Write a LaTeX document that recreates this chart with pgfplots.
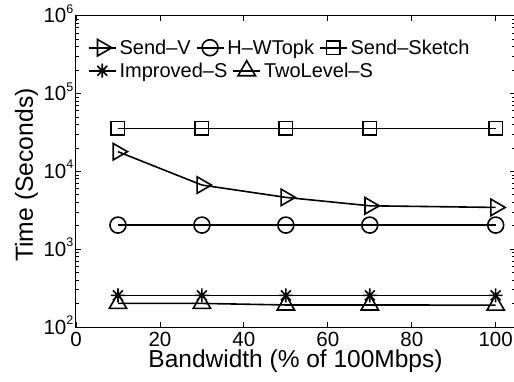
\documentclass[border=0pt]{standalone}
\usepackage{fontspec}
\setmainfont{Liberation Sans}
\usepackage{pgfplots}
\pgfplotsset{compat=1.18}

\pgfdeclareplotmark{mstar}{%
  \pgfpathmoveto{\pgfpoint{-\pgfplotmarksize}{0pt}}\pgfpathlineto{\pgfpoint{\pgfplotmarksize}{0pt}}%
  \pgfpathmoveto{\pgfpoint{0pt}{-\pgfplotmarksize}}\pgfpathlineto{\pgfpoint{0pt}{\pgfplotmarksize}}%
  \pgfpathmoveto{\pgfpoint{-0.707\pgfplotmarksize}{-0.707\pgfplotmarksize}}\pgfpathlineto{\pgfpoint{0.707\pgfplotmarksize}{0.707\pgfplotmarksize}}%
  \pgfpathmoveto{\pgfpoint{-0.707\pgfplotmarksize}{0.707\pgfplotmarksize}}\pgfpathlineto{\pgfpoint{0.707\pgfplotmarksize}{-0.707\pgfplotmarksize}}%
  \pgfusepathqstroke}

\newcommand{\ex}[1]{\raisebox{9.5pt}{\fontsize{12.5}{13}\selectfont #1}}

\tikzset{
  stySV/.style={black, line width=1.6pt, mark=triangle, mark size=9.5pt, mark options={rotate=-90, solid}},
  styHW/.style={black, line width=1.6pt, mark=o, mark size=8pt, mark options={solid}},
  stySS/.style={black, line width=1.6pt, mark=square, mark size=6.7pt, mark options={solid}},
  styIS/.style={black, line width=1.6pt, mark=mstar, mark size=7pt, mark options={solid}},
  styTL/.style={black, line width=1.6pt, mark=triangle, mark size=10pt, mark options={solid}},
}

\pgfplotsset{
  legend image code/.code={\draw[mark repeat=2,mark phase=2,#1] plot coordinates {(0pt,0pt) (13.5pt,0pt) (27pt,0pt)};},
  legend style={draw=none, fill=none, inner sep=0pt, outer sep=0pt,
      font=\fontsize{20}{24}\selectfont,
      nodes={inner sep=3pt},
      /tikz/every even column/.append style={column sep=2pt},
      anchor=west},
}

\begin{document}
\begin{tikzpicture}
\begin{axis}[
  scale only axis, width=439pt, height=311.3pt,
  xmin=0, xmax=104.6, ymin=100, ymax=1000000, ymode=log,
  legend columns=-1, legend cell align=left,
  axis line style={line width=1pt},
  tick style={line width=0.8pt, black},
  major tick length=5pt, minor tick length=3pt,
  xtick={0,20,40,60,80,100},
  xticklabels={0,20,40,60,80,100},
  ytick={100,1000,10000,100000,1000000},
  yticklabels={10\ex{2},10\ex{3},10\ex{4},10\ex{5},10\ex{6}},
  minor ytick={200,300,400,500,600,700,800,900,2000,3000,4000,5000,6000,7000,8000,9000,20000,30000,40000,50000,60000,70000,80000,90000,200000,300000,400000,500000,600000,700000,800000,900000},
  xticklabel style={font=\fontsize{20.5}{24}\selectfont, anchor=base, inner sep=0pt, text depth=0pt, yshift=-19.5pt},
  yticklabel style={font=\fontsize{20.5}{24}\selectfont, anchor=base east, inner sep=0pt, xshift=-2.5pt, yshift=-7pt},
  xlabel={Bandwidth (\% of 100Mbps)},
  ylabel={Time (Seconds)},
  xlabel style={at={(axis description cs:0.5,0)}, anchor=base, inner sep=0pt, text height=18pt, yshift=-40.5pt, font=\fontsize{24.5}{29}\selectfont},
  ylabel style={at={(axis description cs:-0.098,0.488)}, anchor=base, font=\fontsize{24.7}{29}\selectfont},
  legend style={at={(0.0273,0.8972)}},
]
\addplot[stySV] coordinates {(10,17900) (30,6670) (50,4630) (70,3610) (100,3440)};
\addplot[styHW] coordinates {(10,2040) (30,2040) (50,2040) (70,2040) (100,2040)};
\addplot[stySS] coordinates {(10,35700) (30,35700) (50,35700) (70,35700) (100,35700)};
\addplot[styIS] coordinates {(10,255) (30,255) (50,255) (70,255) (100,255)};
\addplot[styTL] coordinates {(10,201) (30,201) (50,192) (70,192) (100,191)};
\legend{Send\textendash V, H\textendash WTopk, Send\textendash Sketch}
\end{axis}
\begin{axis}[
  scale only axis, width=439pt, height=311.3pt,
  xmin=0, xmax=104.6, ymin=100, ymax=1000000, ymode=log,
  hide axis,
  legend columns=-1, legend cell align=left,
  legend style={at={(0.0273,0.8233)}}]
\addlegendimage{styIS}
\addlegendentry{Improved\textendash S}
\addlegendimage{styTL}
\addlegendentry{TwoLevel\textendash S}
\end{axis}
\pgfresetboundingbox
\useasboundingbox ([shift={(-76pt,-54pt)}]current axis.south west) rectangle ([shift={(-1pt,15.7pt)}]current axis.north east);
\end{tikzpicture}
\end{document}
